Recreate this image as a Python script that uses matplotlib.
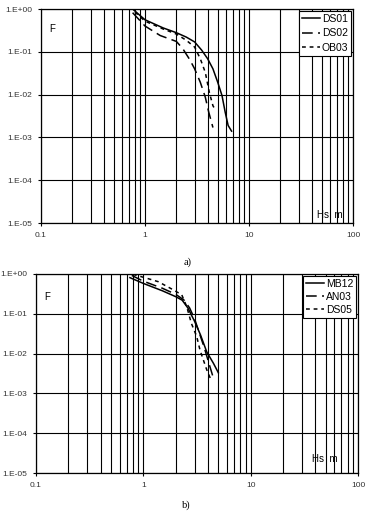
import matplotlib.pyplot as plt
from matplotlib.ticker import FixedLocator, NullFormatter, NullLocator

# panel a)
ds01_x = [0.76, 1.0, 1.5, 2.0, 2.5, 3.0, 3.5, 4.0, 4.5, 5.0, 5.5, 5.9, 6.3, 6.8]
ds01_y = [1.0, 0.56, 0.36, 0.28, 0.22, 0.17, 0.11, 0.069, 0.04, 0.0195, 0.0095, 0.0039, 0.0019, 0.0014]
ds02_x = [0.76, 1.0, 1.4, 2.0, 2.3, 2.7, 3.0, 3.4, 3.8, 4.1, 4.5]
ds02_y = [0.82, 0.40, 0.24, 0.175, 0.12, 0.065, 0.04, 0.0195, 0.0087, 0.0039, 0.0017]
ob03_x = [0.80, 1.0, 1.5, 2.0, 2.5, 3.0, 3.4, 3.8, 4.15, 4.5, 4.8]
ob03_y = [0.85, 0.52, 0.34, 0.26, 0.185, 0.129, 0.069, 0.033, 0.0114, 0.0055, 0.0042]

# panel b)
mb12_x = [0.75, 1.0, 1.5, 2.0, 2.3, 2.6, 3.0, 3.4, 3.9, 4.5, 5.0]
mb12_y = [0.81, 0.58, 0.38, 0.27, 0.22, 0.14, 0.065, 0.03, 0.011, 0.0057, 0.0033]
an03_x = [0.78, 1.0, 1.5, 2.0, 2.4, 2.7, 3.0, 3.3, 3.7, 4.1, 4.5]
an03_y = [0.92, 0.66, 0.44, 0.31, 0.22, 0.14, 0.075, 0.035, 0.014, 0.0055, 0.0024]
ds05_x = [0.80, 1.08, 1.38, 1.9, 2.28, 2.54, 2.8, 3.14, 3.38, 3.62, 3.9, 4.3]
ds05_y = [0.98, 0.78, 0.64, 0.40, 0.30, 0.15, 0.058, 0.027, 0.012, 0.007, 0.0039, 0.0021]

xticks = [0.1, 1, 10, 100]
xtick_labels = ['0.1', '1', '10', '100']
yticks = [1e-5, 1e-4, 1e-3, 1e-2, 1e-1, 1]
ytick_labels = ['1.E-05', '1.E-04', '1.E-03', '1.E-02', '1.E-01', '1.E+00']

solid = '-'
long_dash = (0, (7, 3.5))
short_dash = (0, (2.5, 2.5))

plt.rcParams['font.family'] = 'Liberation Sans'

fig = plt.figure(figsize=(3.69, 5.12), dpi=100)
ax1 = fig.add_axes([41 / 369, 1 - 223 / 512, 312 / 369, 214 / 512])
ax2 = fig.add_axes([36 / 369, 1 - 473 / 512, 322 / 369, 199 / 512])


def setup(ax, f_pos, hs_pos):
    ax.set_xscale('log')
    ax.set_yscale('log')
    ax.set_xlim(0.1, 100)
    ax.set_ylim(1e-5, 1)
    minors = [m * 10.0 ** e for e in (-1, 0, 1) for m in range(2, 10)]
    ax.xaxis.set_major_locator(FixedLocator(xticks))
    ax.xaxis.set_minor_locator(FixedLocator(minors))
    ax.xaxis.set_minor_formatter(NullFormatter())
    ax.set_xticklabels(xtick_labels)
    ax.yaxis.set_major_locator(FixedLocator(yticks))
    ax.yaxis.set_minor_locator(NullLocator())
    ax.set_yticklabels(ytick_labels)
    ax.grid(True, which='major', color='black', lw=0.8)
    ax.grid(True, which='minor', axis='x', color='black', lw=0.8)
    ax.tick_params(which='both', direction='out', length=2.5, width=0.8,
                   labelsize=6, labelcolor='#333333', pad=4)
    ax.tick_params(which='minor', length=0)
    for s in ax.spines.values():
        s.set_linewidth(0.9)
    ax.text(f_pos[0], f_pos[1], 'F', transform=ax.transAxes, fontsize=7, va='center')
    ax.text(hs_pos[0], hs_pos[1], 'Hs  m', transform=ax.transAxes, fontsize=7, va='center')


setup(ax1, (0.026, 0.907), (0.885, 0.037))
ax1.plot(ds01_x, ds01_y, color='black', lw=1.1, ls=solid, label='DS01')
ax1.plot(ds02_x, ds02_y, color='black', lw=1.1, ls=long_dash, label='DS02')
ax1.plot(ob03_x, ob03_y, color='black', lw=1.1, ls=short_dash, label='OB03')

setup(ax2, (0.025, 0.884), (0.856, 0.07))
ax2.plot(mb12_x, mb12_y, color='black', lw=1.1, ls=solid, label='MB12')
ax2.plot(an03_x, an03_y, color='black', lw=1.1, ls=long_dash, label='AN03')
ax2.plot(ds05_x, ds05_y, color='black', lw=1.1, ls=short_dash, label='DS05')

for ax, spacing in ((ax1, 0.45), (ax2, 0.3)):
    leg = ax.legend(loc='upper right', fontsize=7.5, frameon=True, fancybox=False,
                    framealpha=1, borderaxespad=0.15, handlelength=1.7,
                    handletextpad=0.2, borderpad=0.3, labelspacing=spacing)
    leg.get_frame().set_edgecolor('black')
    leg.get_frame().set_facecolor('white')
    leg.get_frame().set_linewidth(0.8)

fig.text(188 / 369, 1 - 262 / 512, 'a)', fontsize=7.5, family='Liberation Serif',
         ha='center', va='center')
fig.text(186 / 369, 1 - 505 / 512, 'b)', fontsize=7.5, family='Liberation Serif',
         ha='center', va='center')

fig.savefig('out.png', dpi=100)
